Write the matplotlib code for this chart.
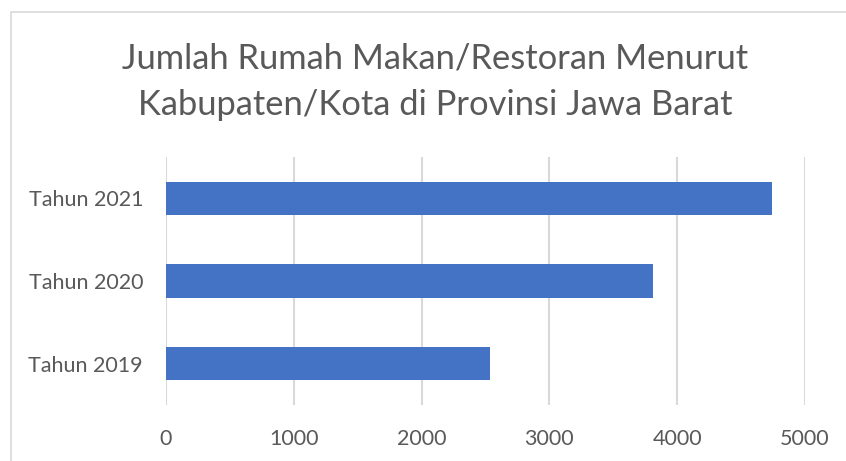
import matplotlib.pyplot as plt
from matplotlib.patches import Rectangle

years = ['Tahun 2019', 'Tahun 2020', 'Tahun 2021']
jumlah = [2535, 3810, 4742]
xticks = [0, 1000, 2000, 3000, 4000, 5000]

plt.rcParams['font.family'] = ['Lato', 'DejaVu Sans']
text_color = '#595959'

fig = plt.figure(figsize=(8.46, 4.61), dpi=100)
fig.patches.append(Rectangle((11 / 846, -0.1), 1.0, (461 - 12) / 461 + 0.1,
                             transform=fig.transFigure, fill=False,
                             edgecolor='#D9D9D9', linewidth=1.2))

ax = fig.add_axes([166 / 846, 56 / 461, 639 / 846, 248 / 461])
ax.barh(years, jumlah, height=0.4, color='#4472C4', zorder=3)

ax.set_xlim(0, 5000)
ax.set_ylim(-0.5, 2.5)
ax.set_xticks(xticks)
ax.set_xticklabels([str(t) for t in xticks])
ax.grid(axis='x', color='#D9D9D9', linewidth=1.5, zorder=0)
for s in ax.spines.values():
    s.set_visible(False)
ax.tick_params(axis='both', length=0, labelsize=15.5, colors=text_color)
ax.tick_params(axis='x', pad=17)
ax.tick_params(axis='y', pad=16.5)

fig.text(435 / 846, 1 - 82 / 461,
         'Jumlah Rumah Makan/Restoran Menurut\nKabupaten/Kota di Provinsi Jawa Barat',
         ha='center', va='center', fontsize=24.8, color=text_color, linespacing=1.55)

fig.savefig('out.png', dpi=100)
